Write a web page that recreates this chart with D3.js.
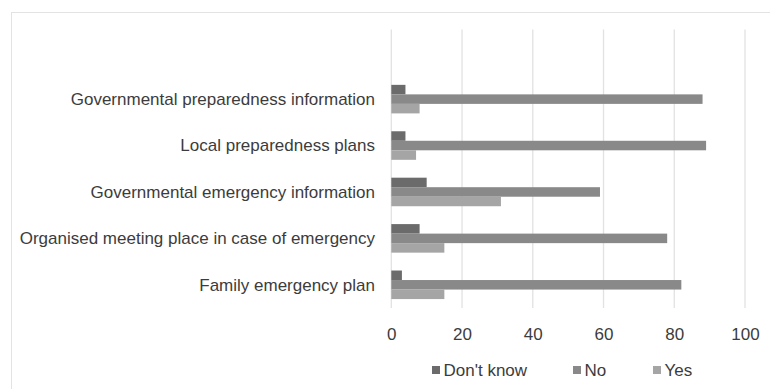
<!DOCTYPE html>
<html>
<head>
<meta charset="utf-8">
<script src="https://cdn.jsdelivr.net/npm/d3@7"></script>
<style>
  body { margin: 0; background: #fff; }
  svg { font-family: "Liberation Sans", Arial, sans-serif; }
</style>
</head>
<body>
<script>
//chart data
var categories = [
    "Governmental preparedness information",
    "Local preparedness plans",
    "Governmental emergency information",
    "Organised meeting place in case of emergency",
    "Family emergency plan"
];
var seriesNames = ["Don't know", "No", "Yes"];
var dontKnow = [4, 4, 10, 8, 3];
var no = [88, 89, 59, 78, 82];
var yes = [8, 7, 31, 15, 15];
var xTicks = [0, 20, 40, 60, 80, 100];

var colors = ["#6b6b6b", "#898989", "#a5a5a5"];

//frame dimensions
var width = 770,
    height = 389;

var svg = d3.select("body")
    .append("svg")
    .attr("width", width)
    .attr("height", height);

//outer chart border
svg.append("rect")
    .attr("x", 11.5)
    .attr("y", 12.5)
    .attr("width", 800)
    .attr("height", 400)
    .attr("fill", "#fff")
    .attr("stroke", "#e3e3e3");

var plot = {left: 391.3, right: 745, top: 29.5, bottom: 308};

var x = d3.scaleLinear()
    .domain([0, 100])
    .range([plot.left, plot.right]);

//the original has an empty row above the first category
var y = d3.scaleBand()
    .domain([""].concat(categories))
    .range([plot.top, plot.bottom])
    .paddingInner(0.385)
    .paddingOuter(0.1925);

var y1 = d3.scaleBand()
    .domain(seriesNames)
    .range([0, y.bandwidth()]);

//gridlines
svg.selectAll(".grid")
    .data(xTicks)
    .enter()
    .append("line")
    .attr("class", "grid")
    .attr("x1", function(d){ return x(d); })
    .attr("x2", function(d){ return x(d); })
    .attr("y1", plot.top)
    .attr("y2", plot.bottom)
    .attr("stroke", "#e2e2e2")
    .attr("stroke-width", 1.3);

//bars
var series = [dontKnow, no, yes];
var rows = categories.map(function(c, i){
    return {cat: c, values: series.map(function(s, j){ return {name: seriesNames[j], value: s[i], k: j}; })};
});

var groups = svg.selectAll(".group")
    .data(rows)
    .enter()
    .append("g")
    .attr("class", "group")
    .attr("transform", function(d){ return "translate(0," + y(d.cat) + ")"; });

groups.selectAll("rect")
    .data(function(d){ return d.values; })
    .enter()
    .append("rect")
    .attr("x", x(0))
    .attr("y", function(d){ return y1(d.name); })
    .attr("width", function(d){ return x(d.value) - x(0); })
    .attr("height", y1.bandwidth())
    .attr("fill", function(d){ return colors[d.k]; });

//category labels
svg.selectAll(".catLabel")
    .data(categories)
    .enter()
    .append("text")
    .attr("class", "catLabel")
    .attr("x", 375)
    .attr("y", function(d){ return y(d) + y.bandwidth() / 2; })
    .attr("dy", "0.35em")
    .attr("text-anchor", "end")
    .attr("font-size", 17)
    .attr("fill", "#3c3c3c")
    .text(function(d){ return d; });

//x axis tick labels
var xAxis = d3.axisBottom(x)
    .tickValues(xTicks)
    .tickSize(0)
    .tickPadding(0);

var axisG = svg.append("g")
    .attr("transform", "translate(0," + 334 + ")")
    .call(xAxis);
axisG.select(".domain").remove();
axisG.selectAll("text")
    .attr("dy", "0.35em")
    .attr("font-size", 17)
    .attr("font-family", "Liberation Sans, Arial, sans-serif")
    .attr("fill", "#3c3c3c");

//legend
var legendX = [432, 573, 653];
var legend = svg.selectAll(".legend")
    .data(seriesNames)
    .enter()
    .append("g")
    .attr("class", "legend")
    .attr("transform", function(d, i){ return "translate(" + legendX[i] + ",370)"; });

legend.append("rect")
    .attr("x", 0)
    .attr("y", -4)
    .attr("width", 8)
    .attr("height", 8)
    .attr("fill", function(d, i){ return colors[i]; });

legend.append("text")
    .attr("x", 11.5)
    .attr("dy", "0.35em")
    .attr("font-size", 17)
    .attr("fill", "#3c3c3c")
    .text(function(d){ return d; });
</script>
</body>
</html>
